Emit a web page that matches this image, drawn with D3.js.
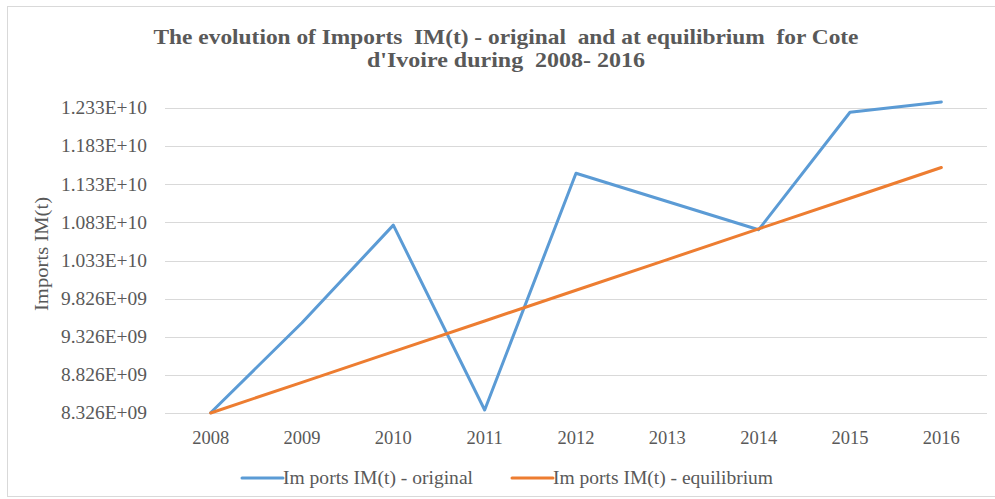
<!DOCTYPE html>
<html>
<head>
<meta charset="utf-8">
<script src="https://cdn.jsdelivr.net/npm/d3@7"></script>
<style>
  html, body { margin: 0; padding: 0; background: #fff; }
  svg { display: block; }
  text { font-family: "Liberation Serif", "Times New Roman", serif; fill: #595959; white-space: pre; }
</style>
</head>
<body>
<svg id="chart" width="995" height="499"></svg>
<script>
const years = ["2008","2009","2010","2011","2012","2013","2014","2015","2016"];
const original = [8.33e9, 9.51e9, 10.79e9, 8.365e9, 11.47e9, 11.10e9, 10.73e9, 12.27e9, 12.405e9];
const equilibrium = [8.326e9, 8.728e9, 9.131e9, 9.533e9, 9.936e9, 10.338e9, 10.741e9, 11.143e9, 11.546e9];
const yTicks = [8.326e9, 8.826e9, 9.326e9, 9.826e9, 10.326e9, 10.826e9, 11.326e9, 11.826e9, 12.326e9];
const yTickLabels = ["8.326E+09","8.826E+09","9.326E+09","9.826E+09","1.033E+10","1.083E+10","1.133E+10","1.183E+10","1.233E+10"];
const seriesNames = ["Im ports IM(t) - original", "Im ports IM(t) - equilibrium"];
const titleLines = ["The evolution of Imports  IM(t) - original  and at equilibrium  for Cote", "d'Ivoire during  2008- 2016"];
const yAxisTitle = "Imports IM(t)";

const colors = ["#5B9BD5", "#ED7D31"];
const svg = d3.select("#chart");

// outer frame
svg.append("rect").attr("x", 7.5).attr("y", 6.5).attr("width", 1000).attr("height", 490)
  .attr("fill", "#fff").attr("stroke", "#D9D9D9").attr("stroke-width", 1);

const x = d3.scaleBand().domain(years).range([165, 987]);
const y = d3.scaleLinear().domain([yTicks[0], yTicks[yTicks.length-1]]).range([413, 108]);

// gridlines
svg.append("g").selectAll("line").data(yTicks).join("line")
  .attr("x1", 165).attr("x2", 987)
  .attr("y1", d => Math.round(y(d)) + 0.5).attr("y2", d => Math.round(y(d)) + 0.5)
  .attr("stroke", "#D9D9D9").attr("stroke-width", 1);

// y tick labels
svg.append("g").selectAll("text").data(yTicks).join("text")
  .attr("x", 147).attr("y", d => y(d)).attr("dy", "0.35em")
  .attr("text-anchor", "end").attr("font-size", 18)
  .attr("textLength", 86).attr("lengthAdjust", "spacingAndGlyphs")
  .text((d, i) => yTickLabels[i]);

// x tick labels
svg.append("g").selectAll("text").data(years).join("text")
  .attr("x", d => x(d) + x.bandwidth() / 2).attr("y", 444)
  .attr("text-anchor", "middle").attr("font-size", 18.5)
  .text(d => d);

// y axis title
svg.append("text")
  .attr("transform", "translate(48,254) rotate(-90)")
  .attr("text-anchor", "middle").attr("font-size", 18)
  .attr("textLength", 114).attr("lengthAdjust", "spacingAndGlyphs")
  .text(yAxisTitle);

// title
const titleWidths = [705, 278];
svg.append("g").selectAll("text").data(titleLines).join("text")
  .attr("x", 506).attr("y", (d, i) => 44 + i * 23)
  .attr("text-anchor", "middle").attr("font-size", 21).attr("font-weight", "bold")
  .attr("textLength", (d, i) => titleWidths[i]).attr("lengthAdjust", "spacingAndGlyphs")
  .text(d => d);

// lines
const line = d3.line().x((d, i) => x(years[i]) + x.bandwidth() / 2).y(d => y(d));
[original, equilibrium].forEach((s, k) => {
  svg.append("path").datum(s).attr("d", line)
    .attr("fill", "none").attr("stroke", colors[k]).attr("stroke-width", 3)
    .attr("stroke-linejoin", "round").attr("stroke-linecap", "round");
});

// legend
const legendX = [242, 512];
const legendW = [190, 220];
seriesNames.forEach((name, k) => {
  const g = svg.append("g").attr("transform", `translate(${legendX[k]},478)`);
  g.append("line").attr("x1", 0).attr("x2", 41).attr("y1", 0).attr("y2", 0)
    .attr("stroke", colors[k]).attr("stroke-width", 3).attr("stroke-linecap", "round");
  g.append("text").attr("x", 41).attr("y", 0).attr("dy", "0.35em").attr("font-size", 18.5)
    .attr("textLength", legendW[k]).attr("lengthAdjust", "spacingAndGlyphs").text(name);
});
</script>
</body>
</html>
